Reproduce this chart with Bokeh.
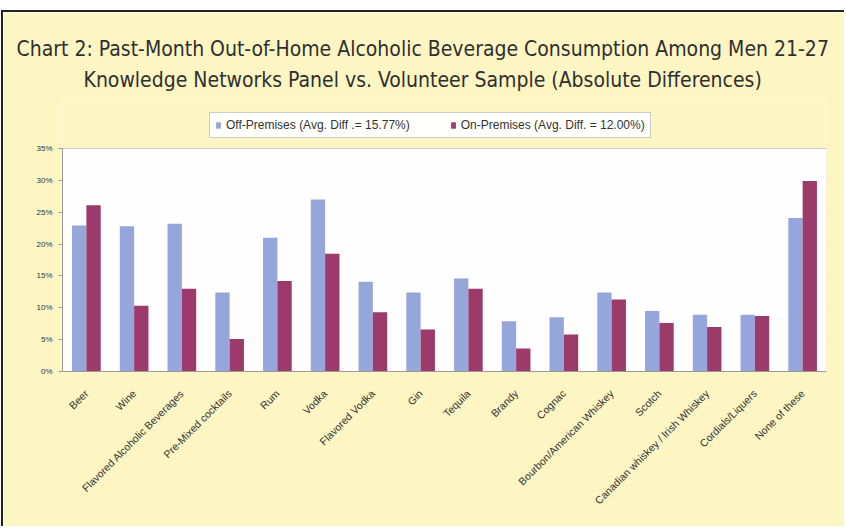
from bokeh.plotting import figure
from bokeh.models import (FactorRange, NumeralTickFormatter, Legend, LegendItem,
                          Title, FixedTicker, BoxAnnotation)
from bokeh.transform import dodge
from bokeh.embed import file_html
from bokeh.resources import INLINE
import math

categories = ["Beer", "Wine", "Flavored Alcoholic Beverages", "Pre-Mixed cocktails",
              "Rum", "Vodka", "Flavored Vodka", "Gin", "Tequila", "Brandy", "Cognac",
              "Bourbon/American Whiskey", "Scotch", "Canadian whiskey / Irish Whiskey",
              "Cordials/Liquers", "None of these"]
off_premises = [0.229, 0.228, 0.232, 0.124, 0.210, 0.270, 0.141, 0.124, 0.146, 0.079,
                0.085, 0.124, 0.095, 0.089, 0.089, 0.241]
on_premises = [0.261, 0.103, 0.130, 0.051, 0.142, 0.185, 0.093, 0.066, 0.130, 0.036,
               0.058, 0.113, 0.076, 0.070, 0.087, 0.299]
series_labels = ["Off-Premises (Avg. Diff .= 15.77%)", "On-Premises (Avg. Diff. = 12.00%)"]
title_lines = ["Chart 2: Past-Month Out-of-Home Alcoholic Beverage Consumption Among Men 21-27",
               "Knowledge Networks Panel vs. Volunteer Sample (Absolute Differences)"]
y_ticks = [0, 0.05, 0.10, 0.15, 0.20, 0.25, 0.30, 0.35]
Y_MAX = 0.35

YELLOW = "#fdf6c3"
BLUE = "#97a6da"
PLUM = "#9b3a6b"
TITLE_FONT = "'DejaVu Sans Condensed', 'Liberation Sans', sans-serif"

# frame spans from FRAME_TOP down to the 0% line; the 0..35% band is the plot area
CANVAS_TOP = 12          # page y of canvas top (below margin + rule)
FRAME_TOP = 100          # page y of frame top
FRAME_LEFT = 62
ZERO_Y = 371             # page y of 0 %
TOP35_Y = 148            # page y of 35 %
y_end = Y_MAX * (ZERO_Y - FRAME_TOP) / (ZERO_Y - TOP35_Y)

src = dict(cat=categories, off=off_premises, on=on_premises)

p = figure(width=843, height=516, x_range=FactorRange(*categories), y_range=(0, y_end),
           output_backend="svg", toolbar_location=None,
           min_border_left=FRAME_LEFT - 3, min_border_right=20,
           min_border_top=FRAME_TOP - CANVAS_TOP, min_border_bottom=528 - ZERO_Y,
           styles={"margin-top": "10px", "margin-left": "1px",
                   "border-top": "2px solid #222222", "border-left": "2px solid #222222"})
p.border_fill_color = YELLOW
p.background_fill_color = YELLOW
p.outline_line_color = None

p.add_layout(BoxAnnotation(bottom=0, top=Y_MAX, fill_color="#fefefe", fill_alpha=1,
                           line_color="#c8c8c8", line_width=1, level="underlay"))

r_off = p.vbar(x=dodge("cat", -0.15, range=p.x_range), top="off", width=0.3, source=src,
               fill_color=BLUE, line_color=None)
r_on = p.vbar(x=dodge("cat", 0.15, range=p.x_range), top="on", width=0.3, source=src,
              fill_color=PLUM, line_color=None)

p.xgrid.grid_line_color = None
p.ygrid.grid_line_color = "#9a9a9a"
p.ygrid.grid_line_width = 1.2
p.ygrid.ticker = FixedTicker(ticks=y_ticks)

p.yaxis.ticker = FixedTicker(ticks=y_ticks)
p.yaxis.bounds = (0, Y_MAX)
p.yaxis.formatter = NumeralTickFormatter(format="0%")
p.yaxis.axis_line_color = "#9a9a9a"
p.yaxis.major_tick_line_color = "#9a9a9a"
p.yaxis.major_tick_out = 4
p.yaxis.major_tick_in = 0
p.yaxis.minor_tick_line_color = None
p.yaxis.major_label_text_font = "Liberation Sans"
p.yaxis.major_label_text_font_size = "8px"
p.yaxis.major_label_text_color = "#333333"
p.yaxis.major_label_standoff = 6

p.xaxis.axis_line_color = "#9a9a9a"
p.xaxis.major_tick_line_color = None
p.xaxis.major_label_orientation = math.pi / 4
p.xaxis.major_label_text_font = "Liberation Sans"
p.xaxis.major_label_text_font_size = "10.5px"
p.xaxis.major_label_text_color = "#333333"
p.xaxis.major_label_standoff = 14

legend = Legend(items=[LegendItem(label=series_labels[0], renderers=[r_off]),
                       LegendItem(label=series_labels[1], renderers=[r_on])],
                orientation="horizontal", location=(147, ZERO_Y - 138), margin=0, padding=5,
                spacing=40, glyph_width=6, glyph_height=8, label_standoff=5, label_height=13,
                label_text_font="Liberation Sans", label_text_font_size="12px",
                label_text_color="#333333", background_fill_color="white",
                border_line_color="#9a9a9a")
p.add_layout(legend, "center")

p.add_layout(Title(text=title_lines[1], align="left", offset=83 - FRAME_LEFT,
                   text_font=TITLE_FONT, text_font_size="21px", text_font_style="normal",
                   text_color="#2f2f2f", standoff=18), "above")
p.add_layout(Title(text=title_lines[0], align="left", offset=16 - FRAME_LEFT,
                   text_font=TITLE_FONT, text_font_size="21px", text_font_style="normal",
                   text_color="#2f2f2f", standoff=-9), "above")

open("out.html", "w").write(file_html(p, INLINE))
